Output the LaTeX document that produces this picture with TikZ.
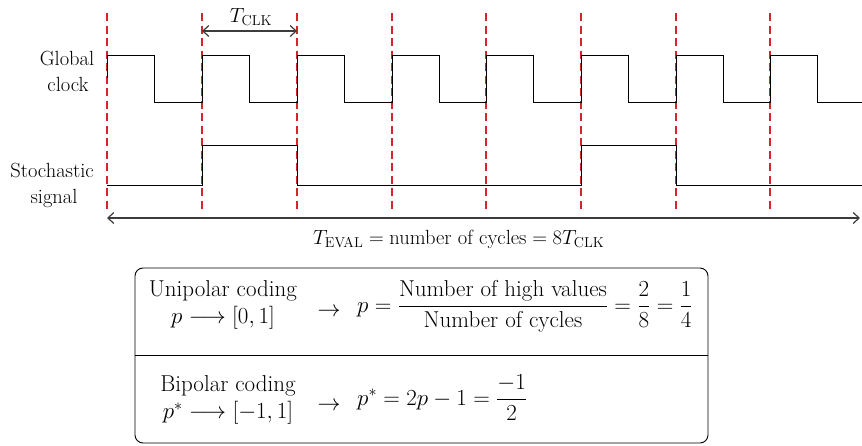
\RequirePackage{fix-cm}
\documentclass[tikz,border=0pt]{standalone}
\usepackage{amsmath}
\usetikzlibrary{positioning, arrows.meta, calc}

\begin{document}
\begin{tikzpicture}[x=1pt, y=-1pt,
    every node/.style={font=\fontsize{20.5}{26}\selectfont, inner sep=0pt},
    >={Straight Barb[length=6pt, width=11pt]}]
  % Define colors
  \definecolor{colEdge}{RGB}{215,35,45}   % clock edges - red
  \definecolor{colArr}{RGB}{60,60,60}     % time arrows - dark gray
  \tikzset{
    wave/.style={black, line width=0.95pt},
    edgeline/.style={colEdge, line width=1.1pt, dash pattern=on 8pt off 4.5pt},
    timearrow/.style={colArr, line width=1.2pt, <->},
    boxtxt/.style={font=\fontsize{23}{27}\selectfont}
  }
  \useasboundingbox (0,0) rectangle (862,445);

  % Rising clock edges (dashed)
  \foreach \x in {107,202,297,392,486,581,676,770} {
    \draw[edgeline] (\x,13) -- (\x,210);
  }

  % Global clock (rise / fall / next rise)
  \draw[wave] (107,78) -- (107,55)
    \foreach \f/\n in {154/202,249/297,344/392,439/486,533/581,628/676,723/770} {
      -- (\f,55) -- (\f,102) -- (\n,102) -- (\n,55) }
    -- (817,55) -- (817,102) -- (862,102);

  % Stochastic signal (high during cycles 2 and 6)
  \draw[wave] (107,185) -- (202,185) -- (202,145) -- (297,145) -- (297,185)
    -- (581,185) -- (581,145) -- (676,145) -- (676,185) -- (862,185);

  % Signal labels
  \node[anchor=base] (glob) at (67,65) {Global};
  \node[anchor=base] (globB) at (68,91) {clock};
  \node[anchor=base] (stoc) at (52,177) {Stochastic};
  \node[anchor=base] (stocB) at (54,203) {signal};

  % Clock period
  \coordinate (clkA) at (202,31);
  \coordinate (clkB) at (297,31);
  \draw[timearrow] (clkA) -- (clkB);
  \node[anchor=base] (tclk) at (251,22) {$T_{\text{CLK}}$};

  % Evaluation time
  \coordinate (evA) at (107,218);
  \coordinate (evB) at (860,218);
  \draw[timearrow] (evA) -- (evB);
  \node[anchor=base west] (teval) at (313,244)
    {$T_{\text{EVAL}} = \text{number of cycles} = 8T_{\text{CLK}}$};

  % Coding box
  \draw[line width=0.9pt, rounded corners=8pt] (135,268) rectangle (708,443);
  \draw[line width=0.9pt] (135,355) -- (708,355);

  \node[boxtxt, align=center] (uni) at (223,305) {Unipolar coding\\$p \longrightarrow [0, 1]$};
  \node[boxtxt, anchor=base] (uarr) at (329,316) {$\rightarrow$};
  \node[boxtxt, anchor=base west] (ueq) at (357,312)
    {$p = \dfrac{\text{Number of high values}}{\text{Number of cycles}} = \dfrac{2}{8} = \dfrac{1}{4}$};

  \node[boxtxt, align=center] (bip) at (228,400) {Bipolar coding\\$p^{*} \longrightarrow [-1, 1]$};
  \node[boxtxt, anchor=base] (barr) at (329,410) {$\rightarrow$};
  \node[boxtxt, anchor=base west] (beq) at (357,405)
    {$p^{*} = 2p - 1 = \dfrac{-1}{2}$};
\end{tikzpicture}
\end{document}
